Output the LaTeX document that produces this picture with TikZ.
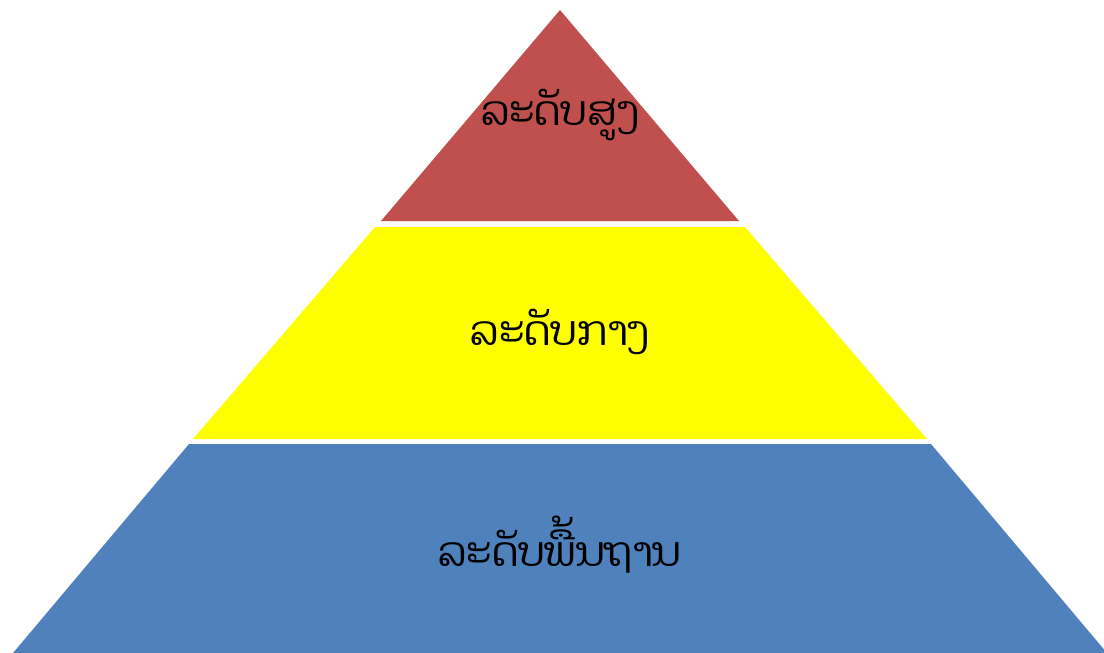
\documentclass[tikz,border=0pt]{standalone}
\usepackage{fontspec}
\newfontfamily\laofont[Script=Lao]{Dhyana}
\definecolor{topred}{HTML}{C0504D}
\definecolor{midyellow}{HTML}{FFFF00}
\definecolor{baseblue}{HTML}{4F81BD}

\begin{document}
\begin{tikzpicture}[x=1pt,y=-1pt,every node/.style={font=\laofont\fontsize{41}{49}\selectfont,text=black}]
\useasboundingbox (0,0) rectangle (1104,653);
\coordinate (apex) at (560,10); \coordinate (rl) at (381,221); \coordinate (rr) at (739,221);
\coordinate (yl1) at (375,227); \coordinate (yr1) at (745,227); \coordinate (yl2) at (193,439); \coordinate (yr2) at (927,439);
\coordinate (bl1) at (189,444); \coordinate (br1) at (931,444); \coordinate (bl2) at (13,653); \coordinate (br2) at (1107,653);
\fill[topred] (apex) -- (rr) -- (rl) -- cycle;
\fill[midyellow] (yl1) -- (yr1) -- (yr2) -- (yl2) -- cycle;
\fill[baseblue] (bl1) -- (br1) -- (br2) -- (bl2) -- cycle;
\node (high) at (560,115) {ລະດັບສູງ}; \node (mid) at (560,332) {ລະດັບກາງ}; \node (base) at (560,545) {ລະດັບພື້ນຖານ};
\end{tikzpicture}
\end{document}
